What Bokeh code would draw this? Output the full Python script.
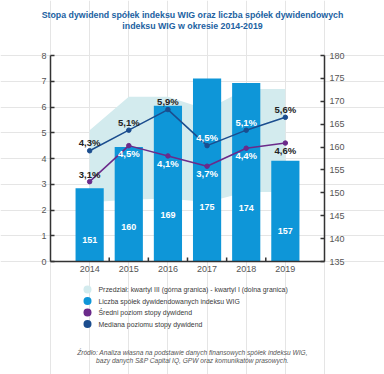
from bokeh.plotting import figure
from bokeh.models import LinearAxis, Range1d, FixedTicker, ColumnDataSource
from bokeh.embed import file_html
from bokeh.resources import INLINE
from bokeh.core.properties import value

# ---------------- data ----------------
years = ["2014", "2015", "2016", "2017", "2018", "2019"]
companies = [151, 160, 169, 175, 174, 157]          # right axis
median_yield = [4.3, 5.1, 5.9, 4.5, 5.1, 5.6]        # left axis (%)
mean_yield = [3.1, 4.5, 4.1, 3.7, 4.4, 4.6]          # left axis (%)
q3_upper = [5.1, 6.4, 6.4, 5.9, 6.7, 6.7]
q1_lower = [2.3, 2.4, 2.45, 2.3, 2.7, 2.7]

left_ticks = [0, 1, 2, 3, 4, 5, 6, 7, 8]
right_ticks = [135, 140, 145, 150, 155, 160, 165, 170, 175, 180]

median_label_on_bar = [False, False, False, True, True, False]
mean_label_on_bar = [False, True, True, True, True, False]
mean_label_below = [False, True, True, True, True, True]

title_lines = ["Stopa dywidend spółek indeksu WIG oraz liczba spółek dywidendowych",
               "indeksu WIG w okresie 2014-2019"]
legend_labels = ["Przedział: kwartyl III (górna granica) - kwartyl I (dolna granica)",
                 "Liczba spółek dywidendowanych indeksu WIG",
                 "Średni poziom stopy dywidend",
                 "Mediana poziomu stopy dywidend"]
source_lines = ["Źródło: Analiza własna na podstawie danych finansowych spółek indeksu WIG,",
                "bazy danych S&P Capital IQ, GPW oraz komunikatów prasowych."]

# ---------------- styles ----------------
FONT = "Liberation Sans"
C_BAND = "#d3ebee"
C_BAR = "#0e96d8"
C_MEAN = "#6b2a8a"
C_MED = "#1b4d8e"
C_TITLE = "#2262a2"
C_DARK = "#222222"
AX_COLOR = "#333333"
LBL_COLOR = "#555555"

W, H = 384, 374
# chart area in page pixels
PX0, PX1, PY_TOP, PY_BOT = 50, 324, 55, 261

idx = list(range(len(years)))
XMIN, XMAX = -1, len(years)
L0, L1 = left_ticks[0], left_ticks[-1]
R0, R1 = right_ticks[0], right_ticks[-1]

xs = (XMAX - XMIN) / (PX1 - PX0)        # data per px
ls = (L1 - L0) / (PY_BOT - PY_TOP)
rs = (R1 - R0) / (PY_BOT - PY_TOP)


def xd(px):
    return XMIN + (px - PX0) * xs


def yd(py):
    return L0 + (PY_BOT - py) * ls


p = figure(width=W, height=H, output_backend="svg", toolbar_location=None,
           title=None,
           x_range=Range1d(XMIN - PX0 * xs, XMAX + (W - PX1) * xs),
           y_range=Range1d(L0 - (H - PY_BOT) * ls, L1 + PY_TOP * ls),
           x_axis_location=None, y_axis_location=None,
           min_border=0, min_border_left=0, min_border_right=0,
           min_border_top=0, min_border_bottom=0)
p.extra_y_ranges = {"right": Range1d(R0 - (H - PY_BOT) * rs, R1 + PY_TOP * rs)}
p.outline_line_color = None
p.background_fill_color = "white"
p.border_fill_color = "white"

# band
p.varea(x=idx, y1=q1_lower, y2=q3_upper, fill_color=C_BAND)

# bars
p.vbar(x=idx, top=companies, bottom=R0, width=0.72,
       y_range_name="right", fill_color=C_BAR, line_color=None)

bar_src = ColumnDataSource(dict(
    x=idx,
    y=[R0 + (v - R0) * 0.3 for v in companies],
    t=[str(v) for v in companies]))
p.text(x="x", y="y", text="t", source=bar_src, y_range_name="right",
       text_color="white", text_font=value(FONT), text_font_style="bold",
       text_font_size="9px", text_align="center", text_baseline="middle")

# lines
p.line(idx, mean_yield, line_color=C_MEAN, line_width=1.5)
p.scatter(idx, mean_yield, size=4.5, color=C_MEAN)
p.line(idx, median_yield, line_color=C_MED, line_width=1.5)
p.scatter(idx, median_yield, size=4.5, color=C_MED)


def fmt(v):
    return f"{v:.1f}".replace(".", ",") + "%"


med_src = ColumnDataSource(dict(
    x=idx, y=median_yield, t=[fmt(v) for v in median_yield],
    c=["white" if b else C_DARK for b in median_label_on_bar],
    off=[-8] * len(years)))
p.text(x="x", y="y", text="t", source=med_src, text_color="c", y_offset="off",
       text_font=value(FONT), text_font_style="bold", text_font_size="9.5px",
       text_align="center", text_baseline="middle")

mean_src = ColumnDataSource(dict(
    x=idx, y=mean_yield, t=[fmt(v) for v in mean_yield],
    c=["white" if b else C_DARK for b in mean_label_on_bar],
    off=[7.5 if b else -7.5 for b in mean_label_below]))
p.text(x="x", y="y", text="t", source=mean_src, text_color="c", y_offset="off",
       text_font=value(FONT), text_font_style="bold", text_font_size="9.5px",
       text_align="center", text_baseline="middle")

# x tick marks between categories (pointing inward, 4px)
tick_x = [i + 0.5 for i in idx[:-1]]
p.segment(x0=tick_x, y0=[L0] * len(tick_x), x1=tick_x,
          y1=[L0 + 4 * ls] * len(tick_x), line_color=AX_COLOR, line_width=1.5)


def style_axis(ax, standoff):
    ax.minor_tick_line_color = None
    ax.axis_line_color = AX_COLOR
    ax.axis_line_width = 1.5
    ax.major_tick_line_color = AX_COLOR
    ax.major_tick_line_width = 1.5
    ax.major_label_standoff = standoff
    ax.major_label_text_font = FONT
    ax.major_label_text_font_size = "9px"
    ax.major_label_text_color = LBL_COLOR


xa = LinearAxis(ticker=FixedTicker(ticks=idx), fixed_location=L0,
                bounds=(XMIN, XMAX))
xa.major_label_overrides = {i: y for i, y in zip(idx, years)}
xa.major_tick_in = 0
xa.major_tick_out = 0
style_axis(xa, 4)
p.add_layout(xa, "below")

ya = LinearAxis(ticker=FixedTicker(ticks=left_ticks), fixed_location=XMIN,
                bounds=(L0, L1))
ya.major_tick_in = 4
ya.major_tick_out = 0
style_axis(ya, 4)
p.add_layout(ya, "left")

ra = LinearAxis(y_range_name="right", ticker=FixedTicker(ticks=right_ticks),
                fixed_location=XMAX, bounds=(R0, R1))
ra.major_tick_in = 4
ra.major_tick_out = 0
style_axis(ra, 5)
p.add_layout(ra, "right")

# ---------------- title ----------------
p.text(x=[xd(192)] * len(title_lines), y=[yd(14), yd(25)], text=title_lines,
       text_font=value(FONT), text_font_style="bold", text_font_size="8.8px",
       text_color=C_TITLE, text_align="center", text_baseline="middle")

# ---------------- legend ----------------
leg_colors = [C_BAND, C_BAR, C_MEAN, C_MED]
leg_py = [289, 300.5, 312, 323.5]
p.scatter(x=[xd(87)] * 4, y=[yd(v) for v in leg_py], marker="circle", size=8,
          fill_color=leg_colors, line_color=None)
p.text(x=[xd(98)] * 4, y=[yd(v) for v in leg_py], text=legend_labels,
       text_font=value(FONT), text_font_size="6.9px", text_color="#3a3a3a",
       text_align="left", text_baseline="middle")

# ---------------- source ----------------
p.text(x=[xd(192)] * 2, y=[yd(352), yd(360)], text=source_lines,
       text_font=value(FONT), text_font_style="italic", text_font_size="6.6px",
       text_color="#555555", text_align="center", text_baseline="middle")

open("out.html", "w").write(file_html(p, INLINE))
